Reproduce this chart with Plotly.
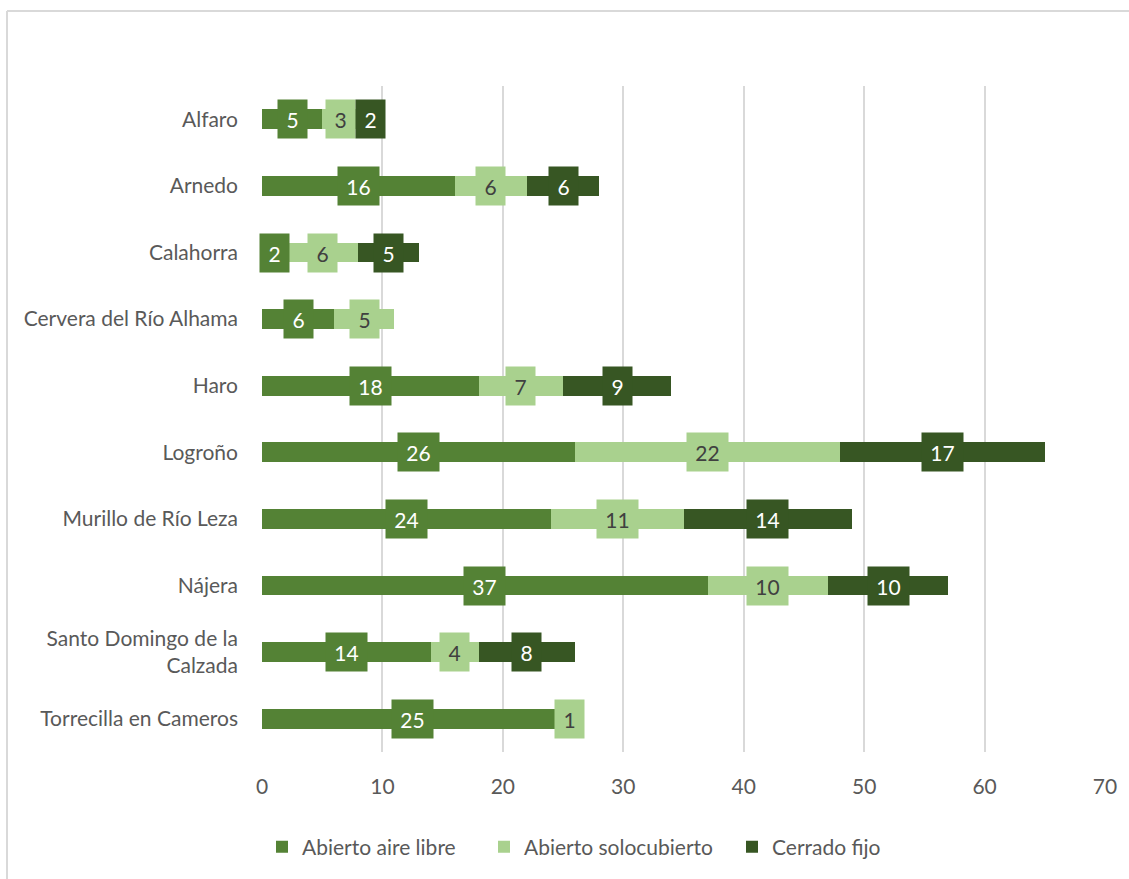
import plotly.graph_objects as go

categories = ["Alfaro", "Arnedo", "Calahorra", "Cervera del Río Alhama", "Haro",
              "Logroño", "Murillo de Río Leza", "Nájera",
              "Santo Domingo de la<br>Calzada", "Torrecilla en Cameros"]
aire_libre = [5, 16, 2, 6, 18, 26, 24, 37, 14, 25]
solocubierto = [3, 6, 6, 5, 7, 22, 11, 10, 4, 1]
cerrado = [2, 6, 5, None, 9, 17, 14, 10, 8, None]
series_names = ["Abierto aire libre", "Abierto solocubierto", "Cerrado fijo"]
x_ticks = [0, 10, 20, 30, 40, 50, 60, 70]

colors = ["#548235", "#A9D18E", "#375623"]
label_colors = ["#FFFFFF", "#404040", "#FFFFFF"]
legend_widths = [177, 203, None]
FONT = "Lato, 'Open Sans', sans-serif"
GREY = "#595959"
FS = 21

W, H = 1129, 879
ML, MR, MT, MB = 262, 24, 86, 127

fig = go.Figure()
series = [aire_libre, solocubierto, cerrado]
for name, vals, col, lw in zip(series_names, series, colors, legend_widths):
    kw = {"legendwidth": lw} if lw else {}
    fig.add_trace(go.Bar(
        y=categories, x=[v if v is not None else 0 for v in vals],
        name=name, orientation="h", marker=dict(color=col, line=dict(width=0)),
        width=0.3, **kw,
    ))

annotations = []
for i, cat in enumerate(categories):
    base = 0
    for s, vals in enumerate(series):
        v = vals[i]
        if v is None:
            continue
        txt = str(v)
        annotations.append(dict(
            x=base + v / 2, y=cat, xref="x", yref="y", text=txt, showarrow=False,
            font=dict(family=FONT, size=FS, color=label_colors[s]),
            bgcolor=colors[s], width=41 if len(txt) > 1 else 29,
            height=38, borderpad=0,
        ))
        base += v

px_w = W - ML - MR
px_h = H - MT - MB
shapes = [
    dict(type="line", xref="paper", yref="paper",
         x0=(7 - ML) / px_w, x1=(W + 5 - ML) / px_w,
         y0=1 + (MT - 11) / px_h, y1=1 + (MT - 11) / px_h,
         line=dict(color="#D9D9D9", width=2)),
    dict(type="line", xref="paper", yref="paper",
         x0=(7 - ML) / px_w, x1=(7 - ML) / px_w,
         y0=1 + (MT - 11) / px_h, y1=-(MB + 5) / px_h,
         line=dict(color="#D9D9D9", width=2)),
]

fig.update_layout(
    barmode="stack", width=W, height=H,
    margin=dict(l=ML, r=MR, t=MT, b=MB),
    plot_bgcolor="white", paper_bgcolor="white",
    font=dict(family=FONT, size=FS, color=GREY),
    xaxis=dict(range=[0, 70], tickvals=x_ticks, showgrid=True, gridcolor="#D9D9D9",
               gridwidth=1.5, zeroline=False, showline=False,
               tickfont=dict(size=FS, color=GREY), ticklabelstandoff=20),
    yaxis=dict(categoryorder="array", categoryarray=categories, autorange="reversed",
               showgrid=False, zeroline=False, showline=False,
               tickfont=dict(size=FS, color=GREY), ticklabelstandoff=23),
    legend=dict(orientation="h", x=(262 - ML) / px_w,
                xanchor="left", y=-(847 - MT - px_h) / px_h, yanchor="middle",
                font=dict(size=FS, color=GREY), itemwidth=30,
                traceorder="normal"),
    annotations=annotations, shapes=shapes,
)
fig.write_html("out.html", config={"displayModeBar": False},
               post_script="document.body.style.margin='0';document.body.style.overflow='hidden';")
